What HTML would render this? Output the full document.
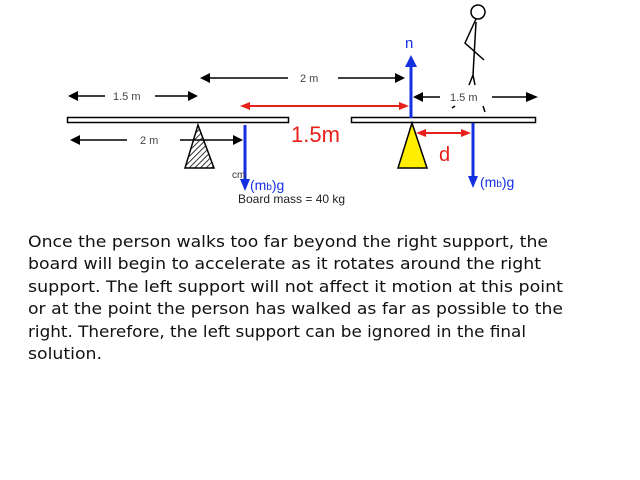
<!DOCTYPE html>
<html><head><meta charset="utf-8"><style>
html,body{margin:0;padding:0;background:#fff;width:640px;height:480px;overflow:hidden}
</style></head><body>
<svg width="640" height="480" xmlns="http://www.w3.org/2000/svg" font-family="Liberation Sans, sans-serif">
<defs>
<pattern id="h" width="4" height="4" patternUnits="userSpaceOnUse" patternTransform="rotate(45)">
<line x1="0" y1="0" x2="0" y2="4" stroke="#000" stroke-width="1.6"/></pattern>
</defs>
<rect x="67.5" y="117.5" width="221" height="5" fill="#fff" stroke="#000" stroke-width="1.5"/>
<rect x="351.5" y="117.5" width="184" height="5" fill="#fff" stroke="#000" stroke-width="1.5"/>
<g stroke="#000" stroke-width="1.5">
<line x1="75" y1="96" x2="105" y2="96"/><line x1="155" y1="96" x2="190" y2="96"/>
<line x1="208" y1="78" x2="288" y2="78"/><line x1="338" y1="78" x2="397" y2="78"/>
<line x1="78" y1="140" x2="127" y2="140"/><line x1="180" y1="140" x2="235" y2="140"/>
<line x1="421" y1="97" x2="440" y2="97"/><line x1="492" y1="97" x2="528" y2="97"/>
</g>
<g fill="#000">
<polygon points="68,96 78,91 78,101"/><polygon points="198,96 188,91 188,101"/>
<polygon points="200,78 210,73 210,83"/><polygon points="405,78 395,73 395,83"/>
<polygon points="70,140 80,135 80,145"/><polygon points="243,140 233,135 233,145"/>
<polygon points="413,97 423,92 423,102"/><polygon points="538,97 526,92 526,102"/>
</g>
<g font-size="11" fill="#444">
<text x="113" y="100">1.5 m</text><text x="300" y="82">2 m</text>
<text x="140" y="144">2 m</text><text x="450" y="101">1.5 m</text>
</g>
<line x1="248" y1="106" x2="400" y2="106" stroke="#e8201a" stroke-width="2"/>
<polygon points="240,106 250,102 250,110" fill="#e8201a"/>
<polygon points="409,106 399,102 399,110" fill="#e8201a"/>
<text x="291" y="142" font-size="22" fill="#e8201a">1.5m</text>
<polygon points="198,125 185,168 214,168" fill="url(#h)" stroke="#000" stroke-width="1.5"/>
<polygon points="412,123 398,168 427,168" fill="#ffee00" stroke="#000" stroke-width="1.5"/>
<line x1="245" y1="125" x2="245" y2="182" stroke="#1530e0" stroke-width="3"/>
<polygon points="245,191 240,179 250,179" fill="#1530e0"/>
<line x1="411" y1="118" x2="411" y2="64" stroke="#1530e0" stroke-width="3"/>
<polygon points="411,55 405,67 417,67" fill="#1530e0"/>
<line x1="473" y1="123" x2="473" y2="180" stroke="#1530e0" stroke-width="3"/>
<polygon points="473,188 468,176 478,176" fill="#1530e0"/>
<text x="405" y="48" font-size="15" fill="#1530e0">n</text>
<text x="232" y="178" font-size="10" fill="#333">cm</text>
<text x="250" y="190" font-size="14" fill="#1530e0">(m<tspan font-size="10">b</tspan>)g</text>
<text x="480" y="187" font-size="14" fill="#1530e0">(m<tspan font-size="10">b</tspan>)g</text>
<text x="238" y="203" font-size="12" fill="#222">Board mass = 40 kg</text>
<line x1="422" y1="133" x2="464" y2="133" stroke="#e8201a" stroke-width="2"/>
<polygon points="416,133 426,129 426,137" fill="#e8201a"/>
<polygon points="471,133 461,129 461,137" fill="#e8201a"/>
<text x="439" y="161" font-size="20" fill="#e8201a">d</text>
<g stroke="#000" stroke-width="1.5" fill="none">
<circle cx="478" cy="12" r="7"/>
<path d="M476,19 L465,43 L484,60"/>
<path d="M476,22 L473,75 L469,85 M473,75 L475,85"/>
<path d="M452,108 L455,106 M483,106 L485,112"/>
</g>
<g font-family="DejaVu Sans, sans-serif" font-size="16" fill="#111">
<text x="28" y="247" textLength="520" lengthAdjust="spacingAndGlyphs">Once the person walks too far beyond the right support, the</text>
<text x="28" y="269" textLength="513" lengthAdjust="spacingAndGlyphs">board will begin to accelerate as it rotates around the right</text>
<text x="28" y="292" textLength="535" lengthAdjust="spacingAndGlyphs">support. The left support will not affect it motion at this point</text>
<text x="28" y="314" textLength="535" lengthAdjust="spacingAndGlyphs">or at the point the person has walked as far as possible to the</text>
<text x="28" y="337" textLength="498" lengthAdjust="spacingAndGlyphs">right. Therefore, the left support can be ignored in the final</text>
<text x="28" y="359" textLength="74" lengthAdjust="spacingAndGlyphs">solution.</text>
</g>
</svg>
</body></html>
